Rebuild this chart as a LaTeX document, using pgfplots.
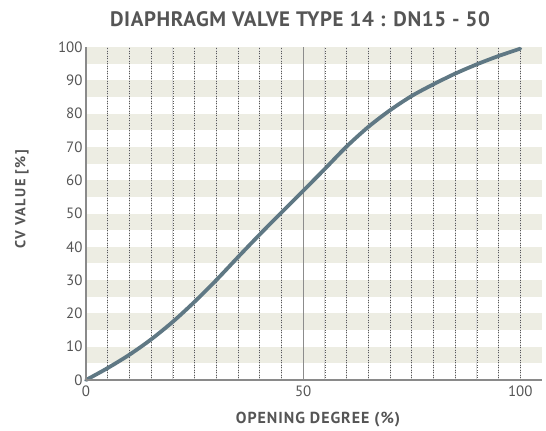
\documentclass[border=0pt]{standalone}
\usepackage{pgfplots}
\pgfplotsset{compat=1.18}
\usepackage{fontspec}
\setmainfont{PT Sans}
\newfontfamily\titlefont[LetterSpace=3]{PT Sans}
\newfontfamily\xlabfont[LetterSpace=6]{PT Sans}
\newfontfamily\ylabfont[LetterSpace=10]{PT Sans}
\definecolor{txt}{HTML}{555555}
\definecolor{band}{HTML}{EDEDE3}
\definecolor{curve}{HTML}{5F7884}
\definecolor{axisgray}{HTML}{8A8A8A}
\begin{document}
\begin{tikzpicture}[x=1bp,y=1bp]
\useasboundingbox (0,0) rectangle (546,430);
\node[font=\titlefont\fontsize{21}{23}\selectfont\bfseries, text=txt] at (300,411) {DIAPHRAGM VALVE TYPE 14 : DN15 - 50};
\node[font=\xlabfont\fontsize{16}{18}\selectfont\bfseries, text=txt] at (318,10) {OPENING DEGREE (\%)};
\node[font=\ylabfont\fontsize{14.5}{16}\selectfont\bfseries, text=txt, rotate=90] at (22,231) {CV VALUE [\%]};
\begin{axis}[
  at={(86bp,50bp)}, anchor=south west,
  scale only axis, width=456bp, height=333bp,
  xmin=0, xmax=105, ymin=0, ymax=100,
  axis x line*=bottom, axis y line*=left,
  axis line style={axisgray, line width=1.2pt},
  x axis line style={-}, y axis line style={-},
  xtick={0,50,100}, ytick={0,10,...,100},
  major tick length=0pt,
  tick label style={font=\fontsize{15}{17}\selectfont, text=txt},
  /pgf/number format/assume math mode=true,
  xticklabel style={yshift=-2pt},
  clip=false,
  axis on top,
]
\fill[band] (axis cs:0,5) rectangle (axis cs:105,10);
\fill[band] (axis cs:0,15) rectangle (axis cs:105,20);
\fill[band] (axis cs:0,25) rectangle (axis cs:105,30);
\fill[band] (axis cs:0,35) rectangle (axis cs:105,40);
\fill[band] (axis cs:0,45) rectangle (axis cs:105,50);
\fill[band] (axis cs:0,55) rectangle (axis cs:105,60);
\fill[band] (axis cs:0,65) rectangle (axis cs:105,70);
\fill[band] (axis cs:0,75) rectangle (axis cs:105,80);
\fill[band] (axis cs:0,85) rectangle (axis cs:105,90);
\fill[band] (axis cs:0,95) rectangle (axis cs:105,100);
\pgfplotsinvokeforeach{5,10,15,20,25,30,35,40,45,55,60,65,70,75,80,85,90,95,100}{
  \draw[black!15, line width=0.8pt] (axis cs:#1,0) -- (axis cs:#1,100);
  \draw[black!65, line width=0.5pt, dotted] (axis cs:#1,0) -- (axis cs:#1,100);
}
\draw[black!45, line width=1pt] (axis cs:50,0) -- (axis cs:50,100);
\addplot[curve, line width=3.8pt, smooth, line cap=round] coordinates {
(0,0) (5,3.6) (10,7.6) (15,12.2) (20,17.5) (25,23.5) (30,30) (35,36.9) (40,43.7)
(45,50.3) (50,56.8) (55,63.4) (60,70.1) (65,76) (70,81) (75,85.3) (80,88.8)
(85,92) (90,94.8) (95,97.3) (100,99.5)
};
\end{axis}
\end{tikzpicture}
\end{document}
